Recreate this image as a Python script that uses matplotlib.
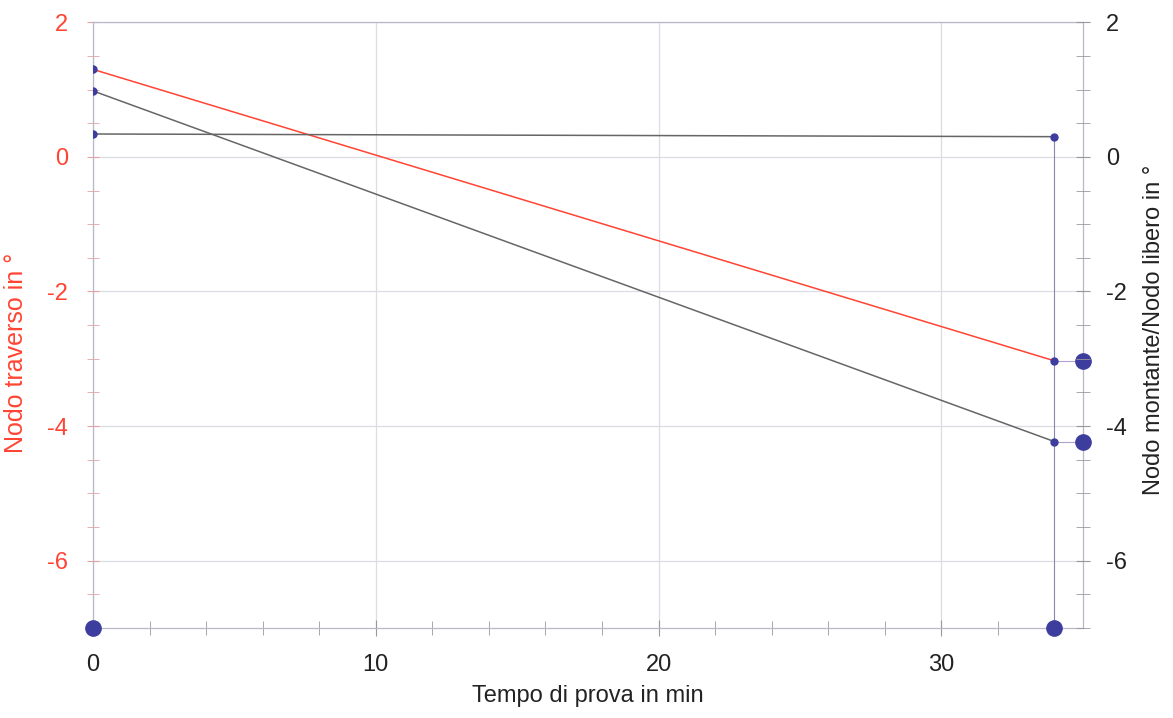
import matplotlib.pyplot as plt
from matplotlib.ticker import MultipleLocator

plt.rcParams['font.family'] = ['Liberation Sans', 'DejaVu Sans']
plt.rcParams['axes.unicode_minus'] = False

# data
t = [0, 34]
traverso = [1.30, -3.03]        # red line, left axis
montante = [0.98, -4.23]        # grey line
libero = [0.34, 0.30]           # flat grey line
x_end = 35
y_bottom = -7

red = '#ff4433'
dot = '#3d3d9e'
grey = '#666666'
grid = '#dcdce6'
fs = 17

fig = plt.figure(figsize=(11.73, 7.18), dpi=100)
ax = fig.add_axes([0.0793, 0.1253, 0.8437, 0.8437])
ax.set_xlim(0, x_end)
ax.set_ylim(-7, 2)

ax.plot(t, traverso, color=red, lw=1.1, marker='o', ms=5, mfc=dot, mec=dot, zorder=3)
ax.plot(t, montante, color=grey, lw=1.1, marker='o', ms=5, mfc=dot, mec=dot, zorder=3)
ax.plot(t, libero, color=grey, lw=1.1, marker='o', ms=5, mfc=dot, mec=dot, zorder=3)

# vertical marker line at the last time and links to the right axis
ax.plot([t[1], t[1]], [libero[1], y_bottom], color='#8888aa', lw=0.8, zorder=2)
for v in [traverso[1], montante[1]]:
    ax.plot([t[1], x_end], [v, v], color='#b0a0d0', lw=0.8, zorder=2)
    ax.plot([x_end], [v], 'o', ms=11, color=dot, clip_on=False, zorder=5)
for x in t:
    ax.plot([x], [y_bottom], 'o', ms=11, color=dot, clip_on=False, zorder=5)

ax.set_xticks([0, 10, 20, 30])
ax.xaxis.set_minor_locator(MultipleLocator(2))
ax.set_yticks([2, 0, -2, -4, -6])
ax.yaxis.set_minor_locator(MultipleLocator(0.5))
ax.grid(True, which='major', color=grid, lw=0.9)
ax.set_axisbelow(True)

for s in ['top', 'left', 'right', 'bottom']:
    ax.spines[s].set_color('#b8b8c8')
    ax.spines[s].set_linewidth(0.9)

ax.tick_params(axis='x', which='both', direction='inout', color='#999999', labelsize=fs,
               labelcolor='#222222', pad=13)
ax.tick_params(axis='x', which='major', length=12)
ax.tick_params(axis='x', which='minor', length=10)
ax.tick_params(axis='y', which='both', direction='inout', color='#e8a0a0', labelsize=fs,
               labelcolor=red, pad=14, length=8)

ax.set_xlabel('Tempo di prova in min', fontsize=fs, color='#222222', labelpad=6)
ax.set_ylabel('Nodo traverso in °', fontsize=18, color=red)
ax.yaxis.set_label_coords(-0.066, 0.454)

ax2 = ax.twinx()
ax2.set_ylim(-7, 2)
ax2.set_yticks([2, 0, -2, -4, -6])
ax2.yaxis.set_minor_locator(MultipleLocator(0.5))
ax2.tick_params(axis='y', which='both', direction='inout', length=10, color='#999999',
                labelsize=fs, labelcolor='#222222', pad=12)
for s in ax2.spines.values():
    s.set_visible(False)
ax2.set_ylabel('Nodo montante/Nodo libero in °', fontsize=fs, color='#222222')
ax2.yaxis.set_label_coords(1.061, 0.492)

fig.savefig('out.png', dpi=100)
